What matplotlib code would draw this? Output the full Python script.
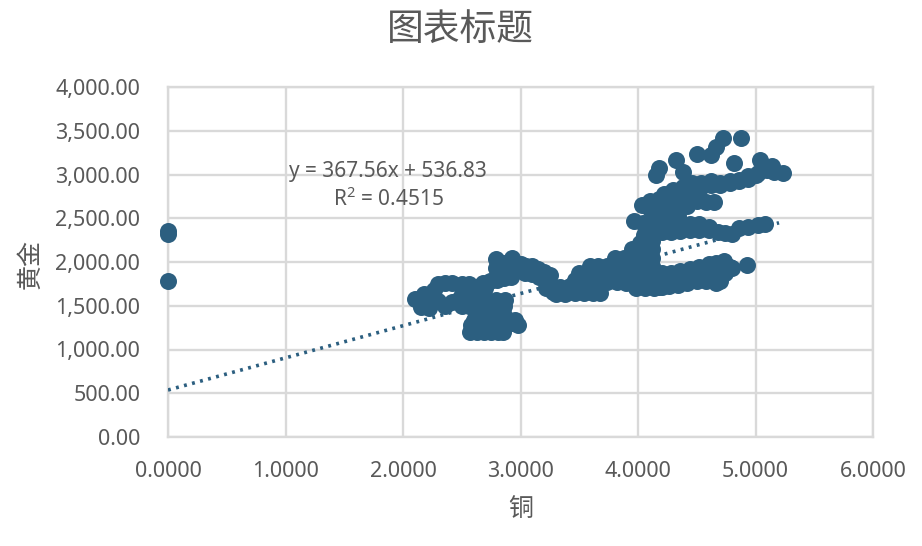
import numpy as np
import matplotlib.pyplot as plt

plt.rcParams['font.family'] = ['Noto Sans', 'Noto Sans CJK SC']
plt.rcParams['mathtext.default'] = 'regular'

# one list per part of the cloud
left_x = [0.0, 0.0, 0.0]
left_y = [2350, 2320, 1780]

low_x = [2.57, 2.63, 2.69, 2.75, 2.81, 2.85,
         2.58, 2.64, 2.7, 2.76, 2.82, 2.88, 2.94, 2.98,
         2.6, 2.66, 2.72, 2.78, 2.84, 2.9, 2.95,
         2.62, 2.68, 2.74, 2.8, 2.85,
         2.5, 2.56, 2.62, 2.68, 2.74, 2.8, 2.86,
         2.47, 2.55, 2.63, 2.71, 2.79, 2.87]
low_y = [1200, 1200, 1200, 1200, 1200, 1200,
         1280, 1280, 1280, 1280, 1280, 1280, 1300, 1280,
         1340, 1340, 1340, 1340, 1340, 1340, 1340,
         1420, 1420, 1420, 1420, 1420,
         1500, 1500, 1500, 1500, 1500, 1500, 1500,
         1570, 1570, 1570, 1570, 1570, 1570]

chain_x = [2.1, 2.15, 2.18, 2.22, 2.26, 2.3, 2.36, 2.42, 2.5, 2.56, 2.62, 2.68, 2.74, 2.8, 2.86, 2.92,
           2.3, 2.36, 2.42, 2.5, 2.56, 2.62, 2.7,
           2.79, 2.85, 2.93, 2.79, 2.85, 2.91, 2.97, 2.8, 2.86, 2.92,
           3.0, 3.05, 3.1, 3.15, 3.2, 3.25, 3.04, 3.1, 3.16, 3.22,
           3.22, 3.28, 3.3, 3.38, 3.46, 3.54, 3.62, 3.68]
chain_y = [1580, 1490, 1640, 1480, 1680, 1750, 1760, 1760, 1750, 1750, 1720, 1760, 1780, 1800, 1820, 1830,
           1560, 1500, 1540, 1640, 1660, 1680, 1700,
           2030, 1990, 2050, 1930, 1900, 1950, 1960, 1840, 1860, 1860,
           1980, 1960, 1950, 1920, 1890, 1850, 1880, 1860, 1830, 1780,
           1700, 1660, 1640, 1640, 1650, 1650, 1650, 1650]

mass_x = [3.34, 3.42, 3.5, 3.58, 3.66, 3.74, 3.82, 3.9, 3.98, 4.06, 4.14, 4.2,
          3.46, 3.54, 3.62, 3.7, 3.78, 3.86, 3.94, 4.02, 4.1, 4.14,
          3.5, 3.58, 3.66, 3.74, 3.82, 3.9, 3.98, 4.06, 4.12,
          3.59, 3.66, 3.74, 3.82, 3.9, 3.98, 4.06, 4.12,
          3.8, 3.88, 3.96, 4.04, 4.12, 3.95, 4.03, 4.12, 4.02, 4.08, 4.12, 4.05, 4.12]
mass_y = [1720, 1730, 1730, 1730, 1750, 1770, 1770, 1760, 1700, 1700, 1700, 1720,
          1800, 1800, 1800, 1800, 1800, 1800, 1800, 1800, 1800, 1800,
          1880, 1880, 1880, 1880, 1880, 1880, 1880, 1880, 1880,
          1950, 1960, 1960, 1960, 1960, 1960, 1960, 1960,
          2050, 2050, 2050, 2050, 2050, 2150, 2150, 2150, 2220, 2240, 2240, 2310, 2310]

arm1_x = [4.18, 4.26, 4.34, 4.42, 4.5, 4.58, 4.66, 4.7,
          4.2, 4.28, 4.36, 4.44, 4.52, 4.6, 4.68, 4.74, 4.8,
          4.2, 4.28, 4.36, 4.44, 4.52, 4.6, 4.66, 4.73, 4.78, 4.93]
arm1_y = [1720, 1730, 1740, 1760, 1780, 1780, 1760, 1780,
          1800, 1820, 1830, 1840, 1860, 1850, 1850, 1880, 1930,
          1880, 1870, 1900, 1920, 1940, 1980, 1990, 2010, 1940, 1970]

arm2_x = [3.97, 4.04, 4.12, 4.2, 4.28, 4.36, 4.44, 4.52, 4.6, 4.12, 4.2, 4.28, 4.36, 4.44, 4.52,
          4.6, 4.68, 4.74, 4.8, 4.86, 4.94, 5.02, 5.08]
arm2_y = [2470, 2440, 2430, 2420, 2430, 2430, 2430, 2430, 2400, 2340, 2340, 2340, 2350, 2360, 2370,
          2360, 2340, 2330, 2320, 2390, 2400, 2420, 2430]

arm3_x = [4.03, 4.1, 4.18, 4.26, 4.34, 4.42, 4.5, 4.58, 4.65,
          4.1, 4.18, 4.26, 4.34, 4.42,
          4.18, 4.26, 4.34,
          4.22, 4.3, 4.38, 4.46, 4.54, 4.62, 4.7, 4.78, 4.86, 4.94, 5.02, 5.1, 5.16, 5.23,
          4.3, 4.38, 4.46, 4.54, 4.62, 4.7, 4.78, 4.86, 4.94, 5.0,
          4.12, 4.2, 4.28, 4.36, 4.2, 4.28, 4.36]
arm3_y = [2650, 2700, 2720, 2740, 2760, 2760, 2700, 2680, 2680,
          2600, 2600, 2620, 2640, 2640,
          2520, 2520, 2520,
          2780, 2820, 2860, 2900, 2900, 2920, 2900, 2920, 2930, 2980, 3020, 3050, 3030, 3020,
          2760, 2800, 2840, 2860, 2880, 2880, 2900, 2940, 2950, 3000,
          2400, 2420, 2440, 2450, 2500, 2640, 2680]

out_x = [4.32, 4.18, 4.15, 4.38, 4.5, 4.62, 4.66, 4.72, 4.88, 4.82, 5.04, 5.14]
out_y = [3170, 3080, 3000, 3030, 3230, 3220, 3320, 3420, 3420, 3130, 3170, 3100]

copper = left_x + low_x + chain_x + mass_x + arm1_x + arm2_x + arm3_x + out_x
gold = left_y + low_y + chain_y + mass_y + arm1_y + arm2_y + arm3_y + out_y

# trendline from the equation printed on the chart
slope = 367.56
intercept = 536.83
trend_x = np.array([0.0, 5.2])

xticks = [0, 1, 2, 3, 4, 5, 6]
yticks = [0, 500, 1000, 1500, 2000, 2500, 3000, 3500, 4000]

color = '#2C5F80'
grey = '#595959'
grid = '#D9D9D9'

fig = plt.figure(figsize=(9.22, 5.46), dpi=100)
ax = fig.add_axes([168 / 922, 1 - 437 / 546, 705 / 922, 350 / 546])

ax.scatter(copper, gold, s=150, color=color, linewidths=0, zorder=3, clip_on=False)
ax.plot(trend_x, slope * trend_x + intercept, color=color, lw=2.6,
        linestyle=(0, (0.8, 1.5)), zorder=4)

ax.set_xlim(0, 6)
ax.set_ylim(0, 4000)
ax.set_xticks(xticks)
ax.set_yticks(yticks)
ax.set_xticklabels([f'{v:.4f}' for v in xticks])
ax.set_yticklabels([f'{v:,.2f}' for v in yticks])
ax.tick_params(axis='x', length=0, labelsize=15.5, labelcolor=grey, pad=17)
ax.tick_params(axis='y', length=0, labelsize=15.5, labelcolor=grey, pad=20)
ax.grid(True, color=grid, lw=1.7, zorder=0)
ax.set_axisbelow(True)
for s in ax.spines.values():
    s.set_color(grid)
    s.set_linewidth(1.7)

fig.text(460 / 922, 1 - 31 / 546, '图表标题', fontsize=26.5, color=grey, ha='center', va='center')
fig.text(521 / 922, 1 - 510 / 546, '铜', fontsize=18, color=grey, ha='center', va='center')
fig.text(31 / 922, 1 - 264 / 546, '黄金', fontsize=18, color=grey, ha='center', va='center', rotation=90)
fig.text(388 / 922, 1 - 172 / 546, 'y = 367.56x + 536.83', fontsize=15, color=grey, ha='center', va='center')
fig.text(388 / 922, 1 - 199 / 546, 'R$^2$ = 0.4515', fontsize=15, color=grey, ha='center', va='center')

fig.savefig('out.png', dpi=100)
